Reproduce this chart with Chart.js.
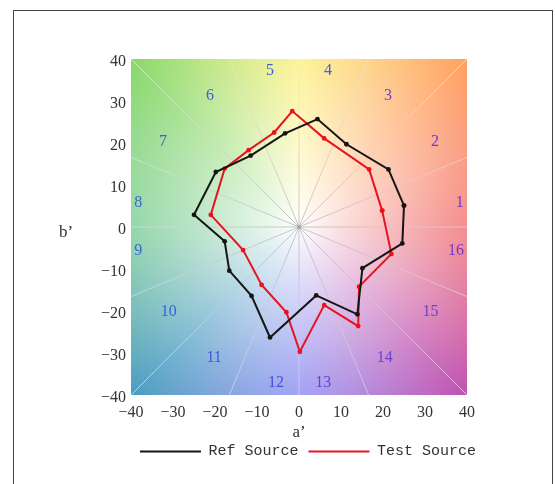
<!DOCTYPE html>
<html><head><meta charset="utf-8">
<script src="https://cdn.jsdelivr.net/npm/chart.js@4.4.0/dist/chart.umd.min.js"></script>
<style>
html,body{margin:0;padding:0;background:#fff;overflow:hidden;width:555px;height:484px;}
#frame{position:absolute;left:13px;top:10px;width:540px;height:520px;border:1px solid #444;box-sizing:border-box;}
#wrap{position:absolute;left:0;top:0;width:555px;height:484px;}
</style></head><body>
<div id="frame"></div>
<div id="wrap"><canvas id="c"></canvas></div>
<script>
// ---- data ----
const binLabels = ['1','2','3','4','5','6','7','8','9','10','11','12','13','14','15','16'];
const refA  = [25.0, 21.3, 11.3, 4.4, -3.3, -11.5, -19.8, -25.0, -17.7, -16.6, -11.3, -6.9, 4.1, 13.9, 15.1, 24.6];
const refB  = [5.1, 13.7, 19.7, 25.7, 22.3, 17.0, 13.1, 2.9, -3.4, -10.4, -16.4, -26.3, -16.3, -20.8, -9.8, -3.9];
const testA = [19.8, 16.7, 6.0, -1.6, -5.9, -12.0, -17.7, -21.0, -13.3, -8.9, -3.0, 0.2, 6.0, 14.1, 14.3, 22.0];
const testB = [3.9, 13.7, 21.1, 27.6, 22.5, 18.3, 13.9, 2.9, -5.5, -13.8, -20.3, -29.7, -18.6, -23.6, -14.2, -6.4];
const axisTicks = [-40, -30, -20, -10, 0, 10, 20, 30, 40];
// anchor of each hue-bin label, in (a', b') units
const binLabelA = [38.3, 32.4, 21.2, 6.9, -6.9, -21.2, -32.4, -38.3, -38.3, -31.0, -20.2, -5.5, 5.8, 20.4, 31.3, 37.4];
const binLabelB = [5.7, 20.3, 31.3, 37.2, 37.2, 31.3, 20.3, 5.7, -5.7, -20.1, -31.1, -37.2, -37.2, -31.1, -20.1, -5.7];
const binLabelColors = ['#7438c8','#7438c8','#6a44cc','#4560d2','#4060d2','#3f62d0','#3d66cf','#3b68cf','#3b66d0','#3e5fd2','#4654d8','#4a4ed8','#5a48d8','#6a42d2','#7040d0','#7438c8'];

function closed(xs, ys) {
  const pts = xs.map((v, i) => ({x: v, y: ys[i]}));
  pts.push({x: xs[0], y: ys[0]});
  return pts;
}

// hue stops for the a'b' background
const hueStops = [
  [0,   [240, 100, 102]],
  [45,  [255, 160, 96]],
  [90,  [252, 240, 115]],
  [135, [136, 216, 104]],
  [180, [110, 200, 140]],
  [225, [74, 156, 192]],
  [270, [128, 128, 240]],
  [315, [192, 80, 176]],
  [360, [240, 100, 102]]
];
function hueColor(deg) {
  for (let i = 0; i < hueStops.length - 1; i++) {
    const [d0, c0] = hueStops[i], [d1, c1] = hueStops[i + 1];
    if (deg >= d0 && deg <= d1) {
      const t = (deg - d0) / (d1 - d0);
      return [c0[0] + (c1[0] - c0[0]) * t, c0[1] + (c1[1] - c0[1]) * t, c0[2] + (c1[2] - c0[2]) * t];
    }
  }
  return hueStops[0][1];
}

const bgPlugin = {
  id: 'labBg',
  beforeDatasetsDraw(chart) {
    const {ctx, chartArea: ca, scales: {x, y}} = chart;
    const dpr = chart.currentDevicePixelRatio || 1;
    const W = Math.round((ca.right - ca.left) * dpr), H = Math.round((ca.bottom - ca.top) * dpr);
    if (!chart.$bg || chart.$bg.width !== W || chart.$bg.height !== H) {
      const off = document.createElement('canvas');
      off.width = W; off.height = H;
      const octx = off.getContext('2d');
      const img = octx.createImageData(W, H);
      const rMax = Math.sqrt(2) * 40;
      for (let py = 0; py < H; py++) {
        const b = y.max - (py + 0.5) / H * (y.max - y.min);
        for (let px = 0; px < W; px++) {
          const a = x.min + (px + 0.5) / W * (x.max - x.min);
          let deg = Math.atan2(b, a) * 180 / Math.PI;
          if (deg < 0) deg += 360;
          const r = Math.sqrt(a * a + b * b);
          const f = Math.pow(Math.min(1, r / rMax), 0.9);
          const c = hueColor(deg);
          const k = (py * W + px) * 4;
          img.data[k] = 255 + (c[0] - 255) * f;
          img.data[k + 1] = 255 + (c[1] - 255) * f;
          img.data[k + 2] = 255 + (c[2] - 255) * f;
          img.data[k + 3] = 255;
        }
      }
      octx.putImageData(img, 0, 0);
      chart.$bg = off;
    }
    ctx.save();
    ctx.drawImage(chart.$bg, ca.left, ca.top, ca.right - ca.left, ca.bottom - ca.top);
    // spokes
    ctx.beginPath();
    ctx.rect(ca.left, ca.top, ca.right - ca.left, ca.bottom - ca.top);
    ctx.clip();
    const cx = x.getPixelForValue(0), cy = y.getPixelForValue(0);
    const grad = ctx.createRadialGradient(cx, cy, 0, cx, cy, 240);
    grad.addColorStop(0, 'rgba(150,150,150,0.55)');
    grad.addColorStop(0.5, 'rgba(215,215,215,0.5)');
    grad.addColorStop(1, 'rgba(255,255,255,0.6)');
    ctx.strokeStyle = grad;
    ctx.lineWidth = 1;
    for (let k = 0; k < 16; k++) {
      const ang = k * 22.5 * Math.PI / 180;
      ctx.beginPath();
      ctx.moveTo(cx, cy);
      ctx.lineTo(x.getPixelForValue(60 * Math.cos(ang)), y.getPixelForValue(60 * Math.sin(ang)));
      ctx.stroke();
    }
    ctx.fillStyle = 'rgba(170,170,170,0.9)';
    ctx.beginPath(); ctx.arc(cx, cy, 2.2, 0, Math.PI * 2); ctx.fill();
    // bin labels
    ctx.font = '16px "Liberation Serif", serif';
    ctx.textAlign = 'center';
    ctx.textBaseline = 'middle';
    binLabels.forEach((t, i) => {
      ctx.fillStyle = binLabelColors[i];
      ctx.fillText(t, x.getPixelForValue(binLabelA[i]), y.getPixelForValue(binLabelB[i]));
    });
    ctx.restore();
  },
  afterDraw(chart) {
    const {ctx, chartArea: ca, scales: {x, y}} = chart;
    ctx.save();
    ctx.font = '17px "Liberation Serif", serif';
    ctx.fillStyle = '#333';
    ctx.textAlign = 'center';
    ctx.textBaseline = 'middle';
    ctx.fillText('b\u2019', 66, y.getPixelForValue(0) + 6);
    ctx.fillText('a\u2019', x.getPixelForValue(0), ca.bottom + 38);
    ctx.restore();
  }
};

const tickFont = {family: '"Liberation Serif", serif', size: 16};
const fmt = v => (v < 0 ? '\u2212' + Math.abs(v) : String(v));

new Chart(document.getElementById('c'), {
  type: 'scatter',
  data: {
    datasets: [
      {label: 'Ref Source', data: closed(refA, refB), showLine: true, borderColor: '#151515', backgroundColor: '#151515',
       borderWidth: 2, pointRadius: 2.4, pointHoverRadius: 2.4, pointBorderWidth: 0, tension: 0},
      {label: 'Test Source', data: closed(testA, testB), showLine: true, borderColor: '#e6141e', backgroundColor: '#e6141e',
       borderWidth: 2, pointRadius: 2.4, pointHoverRadius: 2.4, pointBorderWidth: 0, tension: 0}
    ]
  },
  options: {
    responsive: true,
    maintainAspectRatio: false,
    animation: false,
    events: [],
    layout: {padding: {left: 0, top: 59, right: 69, bottom: 15}},
    scales: {
      x: {
        type: 'linear', min: axisTicks[0], max: axisTicks[axisTicks.length - 1],
        afterBuildTicks: s => { s.ticks = axisTicks.map(v => ({value: v})); },
        afterFit: s => { s.height = 39; },
        grid: {display: false, drawTicks: false}, border: {display: false},
        ticks: {font: tickFont, color: '#333', padding: 8, callback: fmt, maxRotation: 0, autoSkip: false}
      },
      y: {
        type: 'linear', min: axisTicks[0], max: axisTicks[axisTicks.length - 1],
        afterBuildTicks: s => { s.ticks = axisTicks.map(v => ({value: v})); },
        afterFit: s => { s.width = 131; },
        grid: {display: false, drawTicks: false}, border: {display: false},
        ticks: {font: tickFont, color: '#333', padding: 5, callback: fmt, labelOffset: 3, autoSkip: false}
      },
      yRight: {
        type: 'linear', position: 'right', min: 0, max: 1, display: true,
        afterFit: s => { s.width = 19; },
        grid: {display: false, drawTicks: false}, border: {display: false},
        ticks: {display: false}
      }
    },
    plugins: {
      legend: {
        position: 'bottom',
        align: 'end',
        labels: {usePointStyle: true, pointStyle: 'line', pointStyleWidth: 61, padding: 10,
                 font: {family: '"Liberation Mono", monospace', size: 15}, color: '#333',
                 generateLabels: chart => Chart.defaults.plugins.legend.labels.generateLabels(chart)
                   .map(l => Object.assign(l, {lineWidth: 2, strokeStyle: chart.data.datasets[l.datasetIndex].borderColor}))}
      },
      tooltip: {enabled: false}
    }
  },
  plugins: [bgPlugin]
});
</script>
</body></html>
